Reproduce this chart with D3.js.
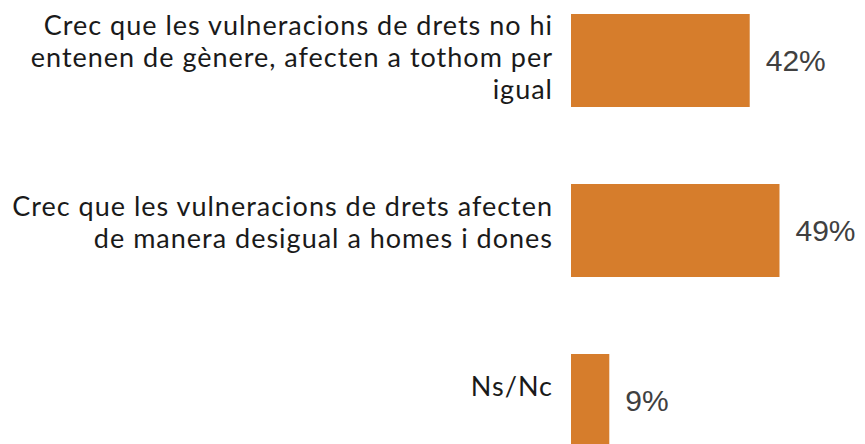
<!DOCTYPE html>
<html>
<head>
<meta charset="utf-8">
<script src="https://cdn.jsdelivr.net/npm/d3@7"></script>
<style>
  body { margin: 0; background: #fff; }
  svg { display: block; }
</style>
</head>
<body>
<svg id="chart" width="865" height="444"></svg>
<script>
// answer categories, each one already split into its lines
const categories = [
  ["Crec que les vulneracions de drets no hi", "entenen de gènere, afecten a tothom per", "igual"],
  ["Crec que les vulneracions de drets afecten", "de manera desigual a homes i dones"],
  ["Ns/Nc"]
];
const values = [42, 49, 9];

const svg = d3.select("#chart"),
  width = +svg.attr("width"),
  height = +svg.attr("height");

const barLeft = 571;
const x = d3.scaleLinear().domain([0, 100]).range([barLeft, barLeft + 425.5]);
const y = d3
  .scaleBand()
  .domain(d3.range(categories.length))
  .range([14, 447])
  .paddingInner(0.453)
  .paddingOuter(0);

const color = "#d67d2c";

const g = svg.append("g");

g.selectAll("rect")
  .data(values)
  .enter()
  .append("rect")
  .attr("x", x(0))
  .attr("y", (d, i) => y(i))
  .attr("width", (d) => x(d) - x(0))
  .attr("height", y.bandwidth())
  .attr("fill", color);

// value labels
g.selectAll("text.val")
  .data(values)
  .enter()
  .append("text")
  .attr("class", "val")
  .attr("x", (d) => x(d) + 16)
  .attr("y", (d, i) => y(i) + y.bandwidth() / 2)
  .attr("dy", "0.35em")
  .style("font-family", "'Liberation Sans', Arial, sans-serif")
  .style("font-size", "30px")
  .attr("fill", "#404040")
  .text((d) => d + "%");

// category labels, right aligned next to the bars
// (the blocks sit a bit lower the more lines they have)
const lineHeight = 32;
categories.forEach((lines, i) => {
  const n = lines.length;
  const cy = y(i) + y.bandwidth() / 2;
  const first = cy - ((n - 1) * lineHeight) / 2 + 5.5 * n - 10;
  const t = g
    .append("text")
    .attr("text-anchor", "end")
    .style("font-family", "Lato, sans-serif")
    .style("font-size", "27px")
    .style("letter-spacing", "1px")
    .attr("fill", "#1a1a1a");
  lines.forEach((line, j) => {
    t.append("tspan")
      .attr("x", barLeft - 18)
      .attr("y", first + j * lineHeight)
      .text(line);
  });
});
</script>
</body>
</html>
